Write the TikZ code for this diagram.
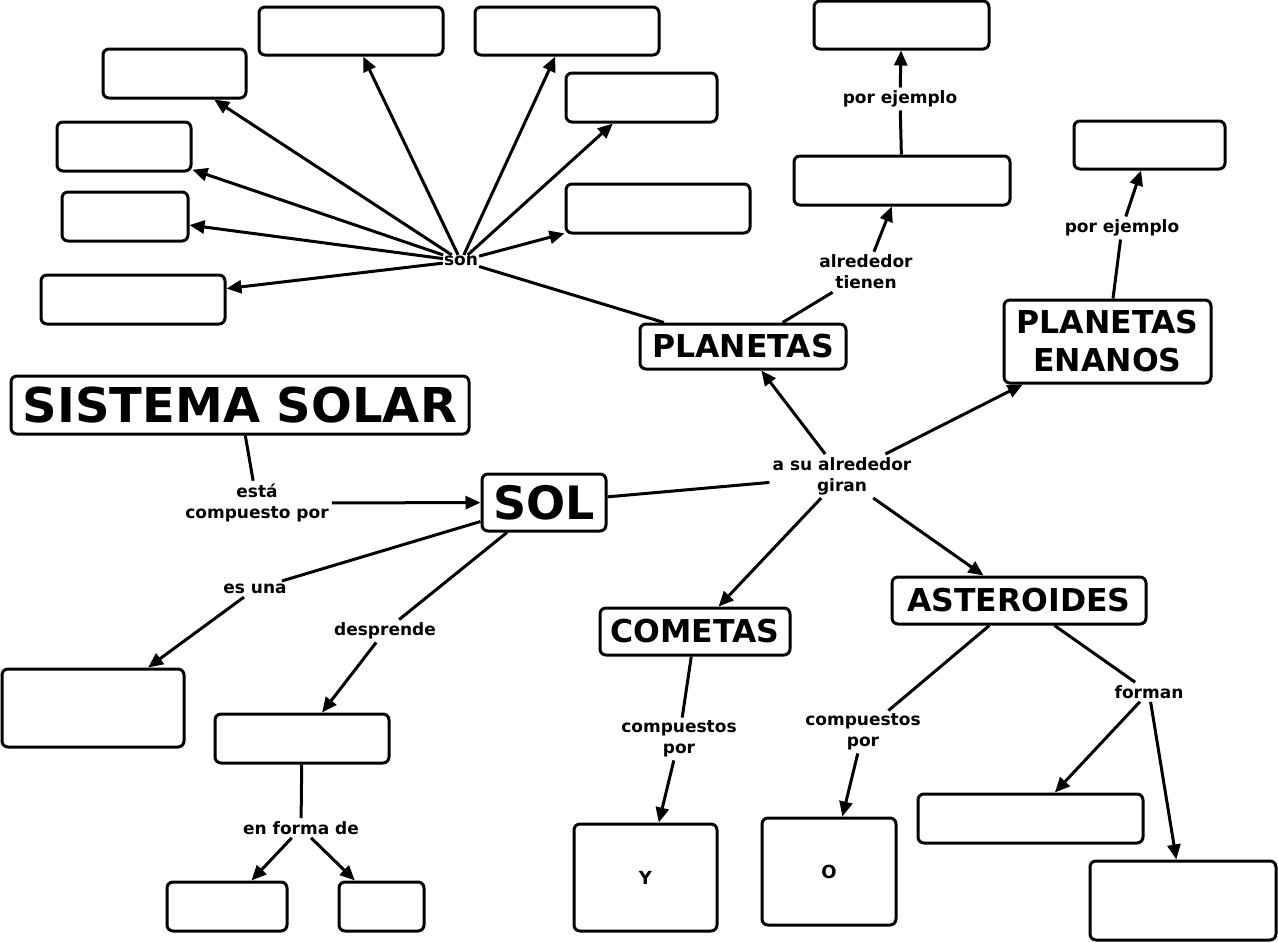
\documentclass[tikz,border=0pt]{standalone}
\usepackage{fontspec}
\setmainfont{DejaVu Sans}
\usetikzlibrary{arrows.meta}
\begin{document}
\begin{tikzpicture}[x=1pt,y=-1pt,
  box/.style={draw,line width=3pt,rounded corners=6pt,inner sep=0pt,fill=white},
  lbl/.style={inner sep=3pt,align=center,font=\fontsize{17}{21}\selectfont\bfseries},
  big/.style={font=\fontsize{31.5}{38}\selectfont\bfseries,align=center},
  con/.style={line width=3pt},
  arr/.style={line width=3pt,-{Triangle[length=15pt,width=13pt]}}]
\useasboundingbox[fill=white] (0,0) rectangle (1278,943);
% main concept boxes
\node[box,minimum width=458,minimum height=58,font=\fontsize{48}{52}\selectfont\bfseries] (sis) at (240,405) {SISTEMA SOLAR};
\node[box,minimum width=124,minimum height=57,font=\fontsize{46}{50}\selectfont\bfseries] (sol) at (544,502.5) {SOL};
\node[box,big,minimum width=206,minimum height=45] (pla) at (743,346.5) {PLANETAS};
\node[box,big,minimum width=207,minimum height=83] (ena) at (1107.5,341.5) {PLANETAS\\ENANOS};
\node[box,big,minimum width=190,minimum height=47] (com) at (695,631.5) {COMETAS};
\node[box,big,minimum width=254,minimum height=47] (ast) at (1019,600.5) {ASTEROIDES};
% empty boxes
\node[box,minimum width=184,minimum height=48] (b1) at (351,31) {};
\node[box,minimum width=184,minimum height=48] (b2) at (567,31) {};
\node[box,minimum width=143,minimum height=49] (b3) at (174.5,73.5) {};
\node[box,minimum width=151,minimum height=49] (b4) at (641.5,97.5) {};
\node[box,minimum width=134,minimum height=49] (b5) at (124,146.5) {};
\node[box,minimum width=126,minimum height=49] (b6) at (125,216.5) {};
\node[box,minimum width=184,minimum height=49] (b7) at (658,208.5) {};
\node[box,minimum width=184,minimum height=49] (b8) at (133,299.5) {};
\node[box,minimum width=175,minimum height=48] (b9) at (901.5,25) {};
\node[box,minimum width=216,minimum height=49] (b10) at (902,180.5) {};
\node[box,minimum width=151,minimum height=48] (b11) at (1149.5,145) {};
\node[box,minimum width=182,minimum height=78] (esb) at (93,708) {};
\node[box,minimum width=174,minimum height=49] (deb) at (302,738.5) {};
\node[box,minimum width=120,minimum height=49] (ef1) at (227,906.5) {};
\node[box,minimum width=85,minimum height=49] (ef2) at (381.5,906.5) {};
\node[box,minimum width=143,minimum height=107,font=\fontsize{18}{20}\selectfont\bfseries] (yb) at (645.5,877.5) {Y};
\node[box,minimum width=134,minimum height=107,font=\fontsize{18}{20}\selectfont\bfseries] (ob) at (829,871.5) {O};
\node[box,minimum width=225,minimum height=49] (f1) at (1030.5,818.5) {};
\node[box,minimum width=186,minimum height=79] (f2) at (1183,900.5) {};
% linking phrases
\node[lbl,inner sep=1pt] (son) at (461,261) {son};
\node[lbl] (alt) at (866,272) {alrededor\\tienen};
\node[lbl] (pe1) at (900,99) {por ejemplo};
\node[lbl] (pe2) at (1122,228) {por ejemplo};
\node[lbl] (gir) at (842,476) {a su alrededor\\giran};
\node[lbl] (est) at (257,503) {está\\compuesto por};
\node[lbl] (esu) at (255,589) {es una};
\node[lbl] (des) at (385,631) {desprende};
\node[lbl] (efd) at (301,828) {en forma de};
\node[lbl] (cp1) at (679,739) {compuestos\\por};
\node[lbl] (cp2) at (863,732) {compuestos\\por};
\node[lbl] (for) at (1149,692) {forman};
% connectors
\foreach \t in {b1,b2,b3,b4,b5,b6,b7,b8} \draw[arr] (son) -- (\t);
\draw[con] (pla) -- (son);
\draw[con] (pla) -- (alt);
\draw[arr] (alt) -- (b10);
\draw[con] (b10) -- (pe1);
\draw[arr] (pe1) -- (b9);
\draw[con] (ena) -- (pe2);
\draw[arr] (pe2) -- (b11);
\draw[con] (sis) -- (est);
\draw[arr] (est) -- (sol);
\draw[con] (sol) -- (gir);
\draw[arr] (gir) -- (pla);
\draw[arr] (gir) -- (ena);
\draw[arr] (gir) -- (com);
\draw[arr] (gir) -- (ast);
\draw[con] (sol) -- (esu);
\draw[arr] (esu) -- (esb);
\draw[con] (sol) -- (des);
\draw[arr] (des) -- (deb);
\draw[con] (deb) -- (efd);
\draw[arr] (efd) -- (ef1);
\draw[arr] (efd) -- (ef2);
\draw[con] (com) -- (cp1);
\draw[arr] (cp1) -- (yb);
\draw[con] (ast) -- (cp2);
\draw[arr] (cp2) -- (ob);
\draw[con] (ast) -- (for);
\draw[arr] (for) -- (f1);
\draw[arr] (for) -- (f2);
\end{tikzpicture}
\end{document}
